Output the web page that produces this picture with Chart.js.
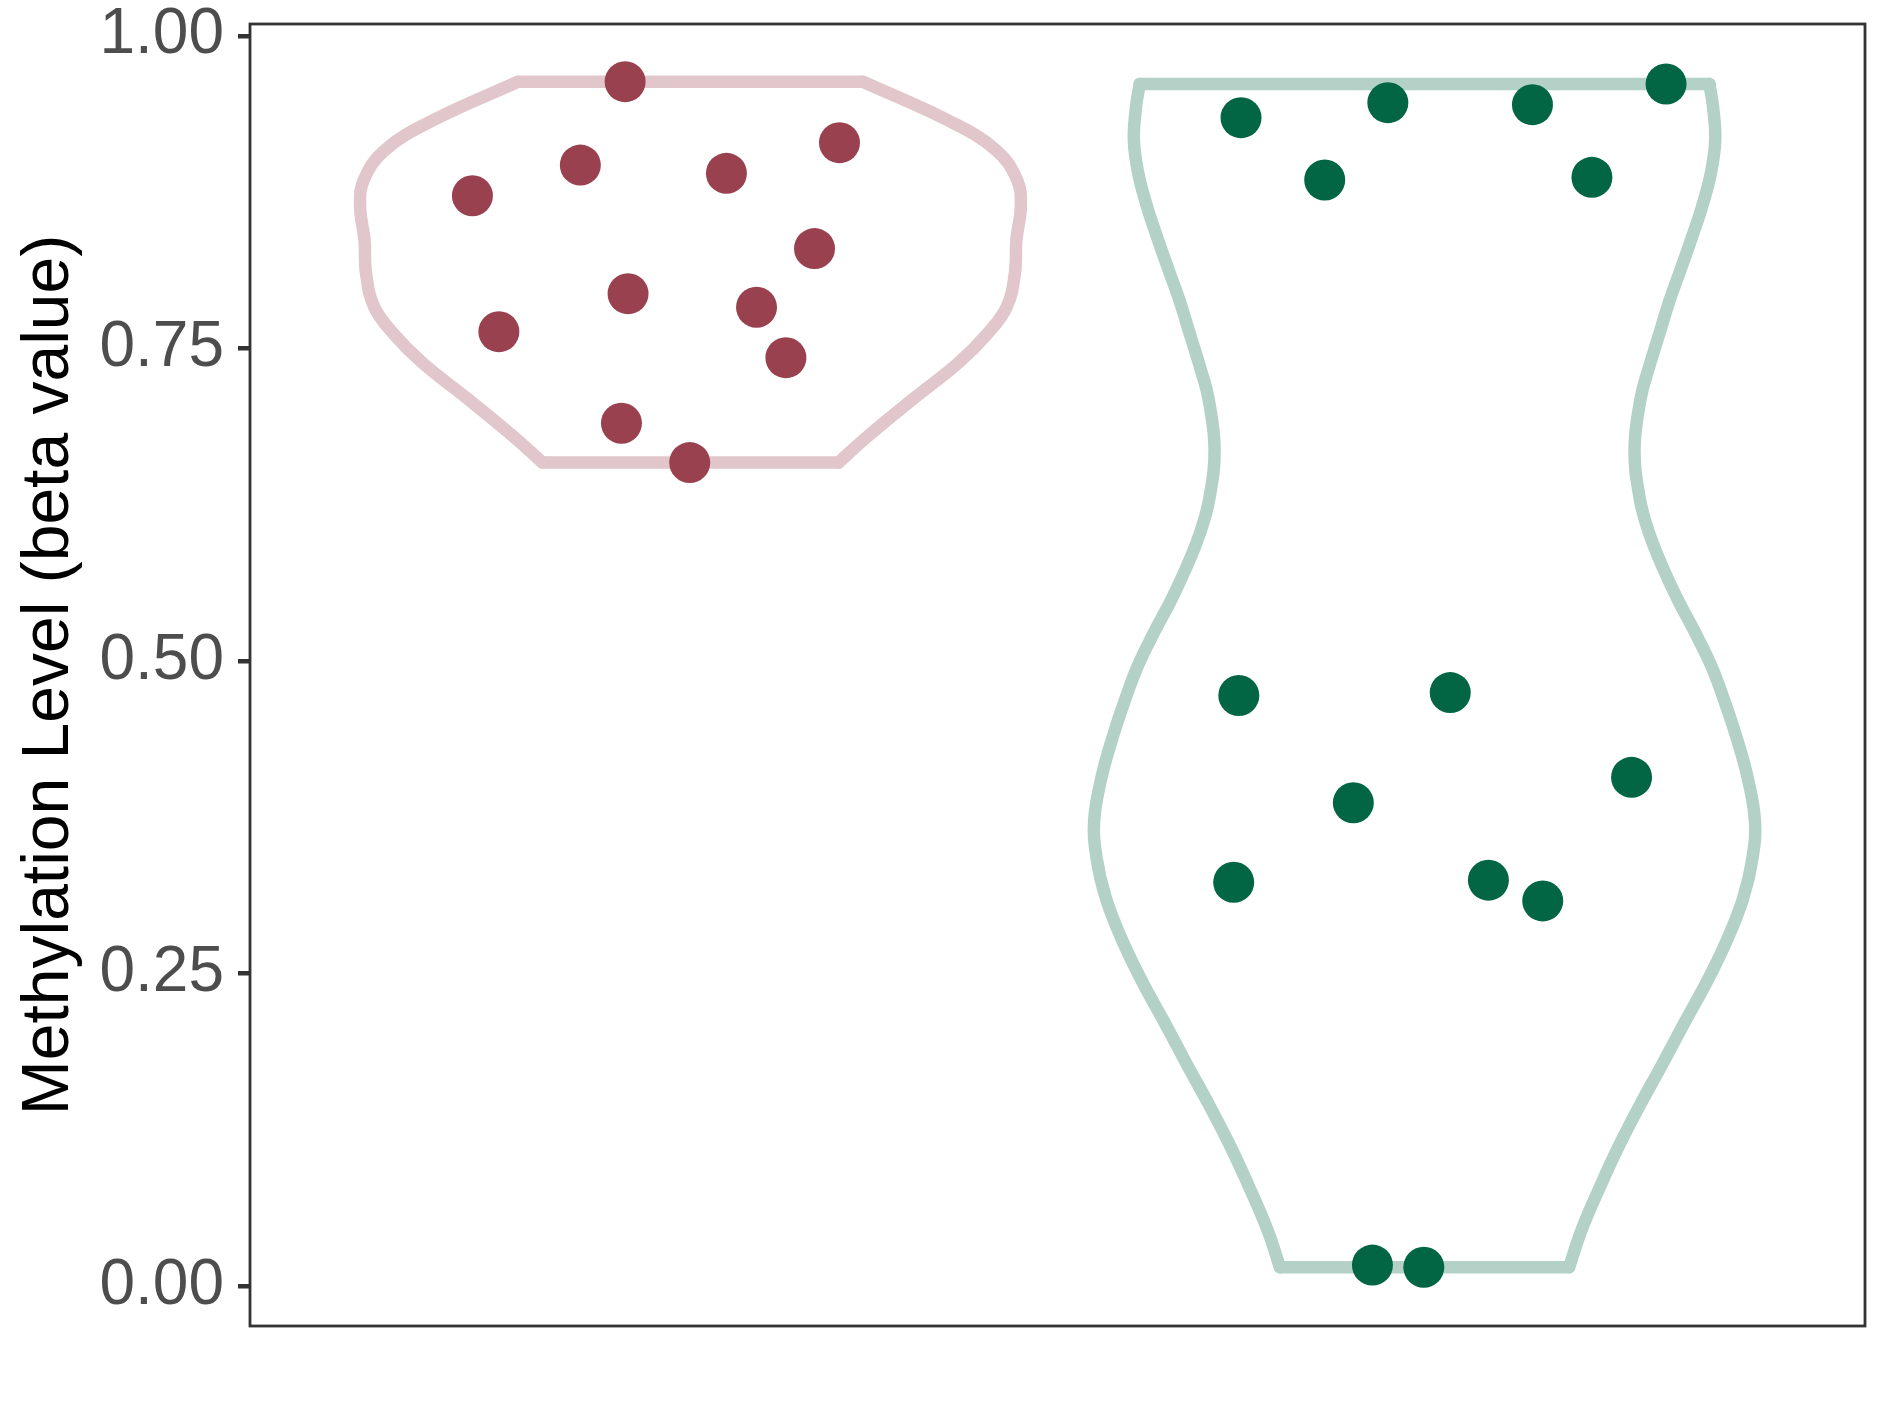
<!DOCTYPE html>
<html>
<head>
<meta charset="utf-8">
<title>Methylation Level</title>
<script src="https://cdn.jsdelivr.net/npm/chart.js@4.4.1/dist/chart.umd.min.js"></script>
<style>
  html, body { margin: 0; padding: 0; background: #ffffff; }
  #wrap { width: 1889px; height: 1417px; }
</style>
</head>
<body>
<div id="wrap"><canvas id="chart" width="1889" height="1417"></canvas></div>
<script>
// position of each group on the hidden x axis
const groupCenters = [1, 2];

// jittered samples: horizontal offset from the group centre, beta value
const pinkOffsets = [-0.089, 0.203, -0.150, 0.049, -0.297, 0.169, -0.085, 0.090, -0.261, 0.130, -0.094, -0.001];
const pinkValues  = [0.9633, 0.9145, 0.8966, 0.8900, 0.8721, 0.8298, 0.7938, 0.7829, 0.7634, 0.7426, 0.6902, 0.6587];

const greenOffsets = [-0.250, -0.136, -0.050, 0.147, 0.228, 0.329, -0.253, 0.035, 0.282, -0.097, -0.260, 0.087, 0.161, -0.071, -0.001];
const greenValues  = [0.9345, 0.8847, 0.9465, 0.9449, 0.8868, 0.9614, 0.4725, 0.4748, 0.4070, 0.3867, 0.3231, 0.3248, 0.3082, 0.0170, 0.0153];

// violin outlines: beta level and half width (x units), top to bottom
const pinkLevels     = [0.9632, 0.9326, 0.9087, 0.8847, 0.8635, 0.8367, 0.8103, 0.7834, 0.7620, 0.7384, 0.7090, 0.6790, 0.6587];
const pinkHalfWidths = [0.235, 0.350, 0.416, 0.445, 0.450, 0.444, 0.442, 0.431, 0.405, 0.365, 0.302, 0.240, 0.2017];

const greenLevels     = [0.9614, 0.9433, 0.9166, 0.8900, 0.8633, 0.8367, 0.8100, 0.7887, 0.7620, 0.7354, 0.7088, 0.6688, 0.6289, 0.6022, 0.5755, 0.5490, 0.5223, 0.4956, 0.4690, 0.4427, 0.4096, 0.3731, 0.3433, 0.3102, 0.2770, 0.2440, 0.2108, 0.1777, 0.1445, 0.1114, 0.0783, 0.0452, 0.0153];
const greenHalfWidths = [0.388, 0.393, 0.396, 0.390, 0.378, 0.363, 0.347, 0.334, 0.320, 0.306, 0.294, 0.286, 0.2935, 0.306, 0.324, 0.345, 0.369, 0.391, 0.408, 0.423, 0.439, 0.450, 0.447, 0.434, 0.412, 0.385, 0.354, 0.324, 0.293, 0.264, 0.238, 0.214, 0.197];

const yTicks = [0, 0.25, 0.5, 0.75, 1];
const yTickLabels = ['0.00', '0.25', '0.50', '0.75', '1.00'];
const yRange = [-0.0317, 1.0094];
const xRange = [0.4, 2.6];

const FONT = "'Liberation Sans', Arial, Helvetica, sans-serif";

function dots(center, offs, vals) {
  return vals.map((v, i) => ({x: center + offs[i], y: v}));
}

// a violin is drawn as four pieces: two smooth sides plus flat top and bottom
function violin(center, levels, half, color) {
  const n = levels.length;
  const side = sign => levels.map((v, i) => ({x: center + sign * half[i], y: v}));
  const flat = i => [{x: center - half[i], y: levels[i]}, {x: center + half[i], y: levels[i]}];
  const base = {
    showLine: true, fill: false, pointRadius: 0, pointHoverRadius: 0,
    borderWidth: 12.5, borderColor: color, borderJoinStyle: 'round', borderCapStyle: 'round', order: 1
  };
  return [
    Object.assign({data: side(-1), tension: 0.4}, base),
    Object.assign({data: side(1), tension: 0.4}, base),
    Object.assign({data: flat(0), tension: 0}, base),
    Object.assign({data: flat(n - 1), tension: 0}, base)
  ];
}

const panelBorder = {
  id: 'panelBorder',
  afterDatasetsDraw(chart) {
    const {ctx, chartArea: a} = chart;
    ctx.save();
    ctx.strokeStyle = '#333333';
    ctx.lineWidth = 2.8;
    ctx.strokeRect(a.left, a.top, a.right - a.left, a.bottom - a.top);
    ctx.restore();
  }
};

new Chart(document.getElementById('chart'), {
  type: 'scatter',
  data: {
    datasets: [
      {label: 'pink points', data: dots(groupCenters[0], pinkOffsets, pinkValues),
       backgroundColor: '#9a4150', borderWidth: 0, pointRadius: 20.5, order: 0},
      {label: 'green points', data: dots(groupCenters[1], greenOffsets, greenValues),
       backgroundColor: '#026645', borderWidth: 0, pointRadius: 20.5, order: 0}
    ].concat(
      violin(groupCenters[0], pinkLevels, pinkHalfWidths, '#e1c6cb'),
      violin(groupCenters[1], greenLevels, greenHalfWidths, '#b3d1c6')
    )
  },
  options: {
    responsive: false,
    animation: false,
    layout: {padding: {left: 0, top: 24, right: 24, bottom: 91}},
    plugins: {legend: {display: false}, tooltip: {enabled: false}},
    scales: {
      x: {type: 'linear', min: xRange[0], max: xRange[1], display: false},
      y: {
        type: 'linear',
        min: yRange[0],
        max: yRange[1],
        afterBuildTicks: s => { s.ticks = yTicks.map(v => ({value: v})); },
        afterFit: s => { s.width = 250; s.paddingTop = 0; s.paddingBottom = 0; },
        ticks: {
          callback: v => yTickLabels[yTicks.indexOf(v)],
          color: '#4d4d4d',
          font: {family: FONT, size: 64},
          padding: 14
        },
        grid: {drawOnChartArea: false, drawTicks: true, tickLength: 12, color: '#333333', lineWidth: 4.5},
        border: {display: false},
        title: {
          display: true,
          text: 'Methylation Level (beta value)',
          color: '#000000',
          font: {family: FONT, size: 66},
          padding: {top: 10, bottom: 0}
        }
      }
    }
  },
  plugins: [panelBorder]
});
</script>
</body>
</html>
